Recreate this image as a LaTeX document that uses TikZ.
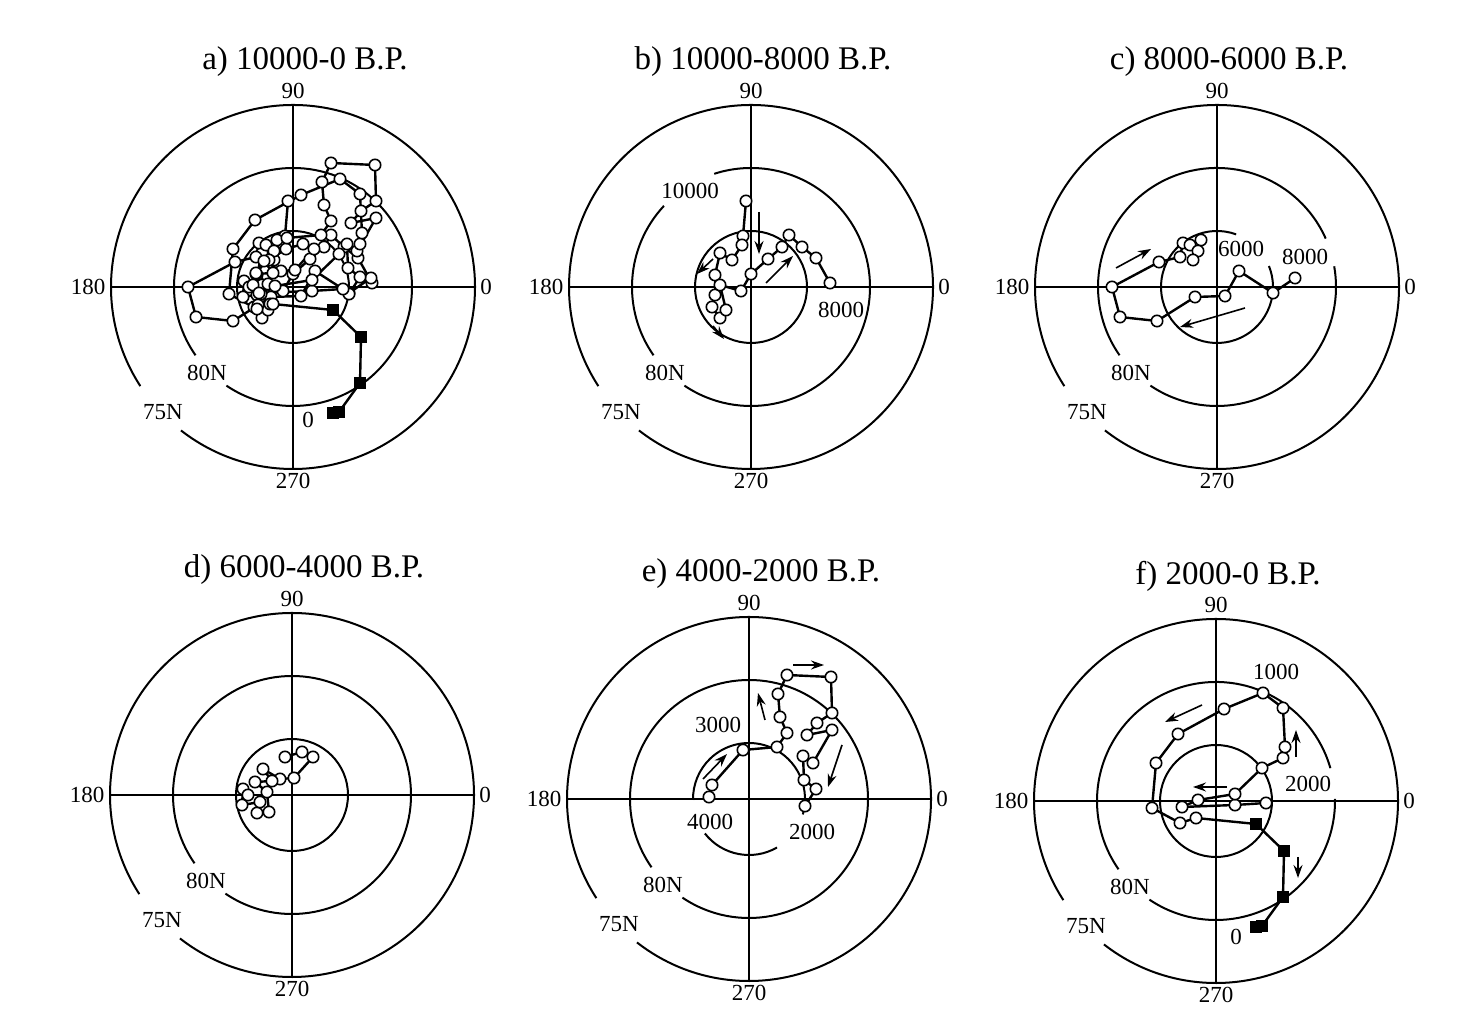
\documentclass[tikz,border=0pt]{standalone}
\usepackage{fontspec}
\setmainfont{Liberation Serif}
\usepackage{tikz}
\usetikzlibrary{arrows.meta}
\tikzstyle{ring} = [line width=2pt]
\tikzstyle{axis} = [line width=1.6pt]
\tikzstyle{track} = [line width=2.4pt]
\tikzstyle{dot} = [line width=1.6pt, fill=white]
\tikzstyle{drift} = [line width=1.6pt, -{Stealth[length=13pt,width=9pt]}]
\tikzstyle{lab} = [font=\fontsize{23}{23}\selectfont, inner sep=0pt]
\tikzstyle{ttl} = [font=\fontsize{33}{33}\selectfont, inner sep=0pt]

% pole positions, pixel offsets from the pole
\def\datab{-5/86,-8/51,-9/42,-19/27,-31/34,-36/12,-36/-8,-39/-20,-31/-31,-25/-23,-31/2,-10/-4,0/13,17/28,31/40,38/52,51/40,65/29,79/4}
\def\datac{78/9,56/-6,22/16,8/-9,-22/-10,-60/-34,-97/-30,-105/0,-58/25,-37/30,-34/44,-27/42,-16/47,-19/36,-24/27}
\def\datad{-7/38,10/43,21/38,2/17,-12/16,-29/26,-20/14,-37/13,-25/3,-23/-17,-35/-18,-32/-7,-50/-10,-49/6,-44/0}
\def\datae{-40/2,-37/14,-6/49,28/52,38/66,31/82,29/105,38/124,82/122,83/86,68/76,58/64,83/69,64/36,54/43,55/19,67/10,56/-7}
\def\dataf{50/-2,19/-4,-34/-6,-18/1,19/7,46/33,67/43,69/54,67/93,47/108,8/92,-38/67,-60/38,-64/-7,-36/-22,-20/-17}
\def\datasq{40/-23,68/-50,67/-96,46/-125,40/-126}
\edef\dataftrack{\dataf,\datasq}
\edef\dataall{\datab,\datac,\datad,\datae,\dataf}
\edef\datafull{\dataall,\datasq}

\newcommand{\ringarc}[3]{\draw[ring] (#2:#1) arc[start angle=#2, end angle=#3, radius=#1];}
\newcommand{\polarbase}[1]{%
  \draw[axis] (-183,0) -- (183,0);
  \draw[axis] (0,-183) -- (0,183);
  \ringarc{182}{232}{573}
  \node[ttl] (title) at (12,225) {#1};
  \node[lab] (n90) at (0,196) {90};
  \node[lab] (n270) at (0,-194) {270};
  \node[lab] (n180) at (-205,0) {180};
  \node[lab] (n0) at (193,0) {0};
  \node[lab] (r80) at (-86,-86) {80N};
  \node[lab] (r75) at (-130,-125) {75N};
}
\newcommand{\drawtrack}[1]{%
  \foreach \x/\y [count=\i, remember=\x as \px, remember=\y as \py] in #1 {%
    \ifnum\i>1 \draw[track] (\px,\py) -- (\x,\y);\fi
  }}
\newcommand{\drawdots}[1]{\foreach \x/\y in #1 {\draw[dot] (\x,\y) circle (5.7);}}
\newcommand{\drawsquares}[1]{\foreach \x/\y in #1 {\fill (\x,\y) +(-6,-6) rectangle +(6,6);}}

\begin{document}
\begin{tikzpicture}[x=1pt,y=1pt]
\useasboundingbox (0,0) rectangle (1469,1035);

% a) whole record
\begin{scope}[shift={(293,748)}, name prefix=a-]
  \polarbase{a) 10000-0 B.P.}
  \draw[ring] (0,0) circle (56);
  \ringarc{119}{236}{575}
  \drawtrack{\datafull}
  \drawdots{\dataall}
  \drawsquares{\datasq}
  \node[lab] (t0) at (15,-133) {0};
\end{scope}

% b)
\begin{scope}[shift={(751,748)}, name prefix=b-]
  \polarbase{b) 10000-8000 B.P.}
  \draw[ring] (0,0) circle (56);
  \ringarc{119}{236}{468}
  \ringarc{119}{137}{215}
  \drawtrack{\datab}
  \drawdots{\datab}
  \draw[drift] (8,75) -- (8,33);
  \draw[drift] (-38,28) -- (-54,13);
  \draw[drift] (-38,-39) -- (-27,-52);
  \draw[drift] (15,4) -- (42,31);
  \node[lab] (t10000) at (-61,96) {10000};
  \node[lab] (t8000) at (90,-23) {8000};
\end{scope}

% c)
\begin{scope}[shift={(1217,748)}, name prefix=c-]
  \polarbase{c) 8000-6000 B.P.}
  \ringarc{56}{70}{382}
  \ringarc{119}{236}{370}
  \ringarc{119}{24}{215}
  \drawtrack{\datac}
  \drawdots{\datac}
  \draw[drift] (-101,19) -- (-66,38);
  \draw[drift] (28,-21) -- (-37,-40);
  \node[lab] (t6000) at (24,38) {6000};
  \node[lab] (t8000) at (88,30) {8000};
\end{scope}

% d)
\begin{scope}[shift={(292,240)}, name prefix=d-]
  \polarbase{d) 6000-4000 B.P.}
  \draw[ring] (0,0) circle (56);
  \ringarc{119}{236}{575}
  \drawtrack{\datad}
  \drawdots{\datad}
\end{scope}

% e)
\begin{scope}[shift={(749,236)}, name prefix=e-]
  \polarbase{e) 4000-2000 B.P.}
  \ringarc{56}{-16}{181}
  \ringarc{56}{218}{300}
  \ringarc{119}{236}{575}
  \drawtrack{\datae}
  \drawdots{\datae}
  \draw[drift] (-46,20) -- (-22,45);
  \draw[drift] (16,79) -- (9,106);
  \draw[drift] (44,134) -- (75,134);
  \draw[drift] (93,54) -- (79,12);
  \node[lab] (t3000) at (-31,74) {3000};
  \node[lab] (t4000) at (-39,-23) {4000};
  \node[lab] (t2000) at (63,-33) {2000};
\end{scope}

% f)
\begin{scope}[shift={(1216,234)}, name prefix=f-]
  \polarbase{f) 2000-0 B.P.}
  \draw[ring] (0,0) circle (56);
  \ringarc{119}{236}{361}
  \ringarc{119}{16}{215}
  \drawtrack{\dataftrack}
  \drawdots{\dataf}
  \drawsquares{\datasq}
  \draw[drift] (-14,96) -- (-51,79);
  \draw[drift] (80,44) -- (80,71);
  \draw[drift] (11,14) -- (-23,14);
  \draw[drift] (82,-56) -- (82,-77);
  \node[lab] (t1000) at (60,129) {1000};
  \node[lab] (t2000) at (92,17) {2000};
  \node[lab] (t0) at (20,-136) {0};
\end{scope}
\end{tikzpicture}
\end{document}
